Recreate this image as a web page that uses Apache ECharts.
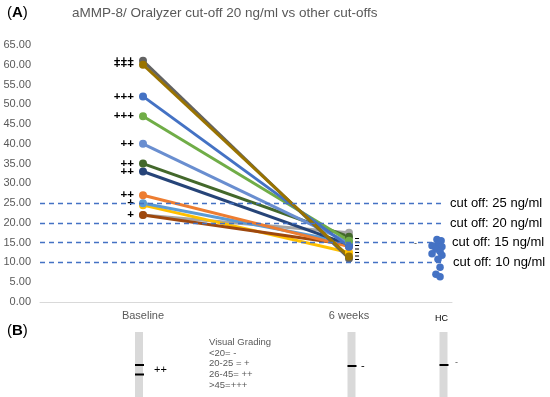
<!DOCTYPE html>
<html>
<head>
<meta charset="utf-8">
<script src="https://cdn.jsdelivr.net/npm/echarts@6/dist/echarts.min.js"></script>
<style>html,body{margin:0;padding:0;background:#fff;}#c{width:550px;height:397px;}</style>
</head>
<body>
<div id="c"></div>
<script>
// ---- data ----
const categories = ['Baseline', '6 weeks'];
const seriesColors = ['#A5A5A5', '#FFC000', '#9E480E', '#5B9BD5', '#ED7D31', '#264478', '#43682B', '#698ED0', '#70AD47', '#4472C4', '#636363', '#997300'];
const baselineValues = [22, 24.5, 22, 25, 27, 33, 35, 40, 47, 52, 61, 60];
const week6Values = [17.5, 12.5, 14.5, 15, 14, 14.5, 16.5, 15, 15.5, 14, 11, 11.5];
const grades = ['', '', '+', '+', '++', '++', '++', '++', '+++', '+++', '+++', '+++'];
const hcValues = [15.8, 15.5, 14.6, 14.2, 14.0, 13.4, 12.8, 12.2, 11.8, 10.8, 8.8, 7.0, 6.4];
const hcPositions = [1.427, 1.447, 1.432, 1.403, 1.451, 1.422, 1.442, 1.403, 1.451, 1.432, 1.442, 1.422, 1.442];
const cutoffs = [25, 20, 15, 10];
const cutoffLabels = ['cut off: 25 ng/ml', 'cut off: 20 ng/ml', 'cut off: 15 ng/ml', 'cut off: 10 ng/ml'];
const week6Range = [16.2, 10.2];
const gradingLines = ['Visual Grading', '<20= -', '20-25 = +', '26-45= ++', '>45=+++'];

const FONT = "'Liberation Sans', Arial, sans-serif";
const chart = echarts.init(document.getElementById('c'), null, {renderer: 'canvas'});

const labelPads = [[0,0,3,0],[0,0,6,0],[0,0,2,2],[0,0,6,3]];

const series = [];
baselineValues.forEach((b, i) => {
  const s = {
    type: 'line',
    xAxisIndex: 1,
    data: [
      {value: [0, b], label: {show: grades[i] !== '', formatter: grades[i]}},
      {value: [1, week6Values[i]]}
    ],
    symbol: 'circle',
    symbolSize: 8,
    showSymbol: true,
    lineStyle: {color: seriesColors[i], width: 3},
    itemStyle: {color: seriesColors[i]},
    label: {show: false, position: 'left', distance: 5, color: '#000', fontSize: 11.5, fontWeight: 'bold', fontFamily: FONT},
    emphasis: {disabled: true},
    animation: false
  };
  if (i === 0) {
    s.markLine = {
      silent: true,
      symbol: 'none',
      animation: false,
      lineStyle: {color: '#4472C4', width: 1.3, type: [5, 4]},
      data: cutoffs.map((c, k) => [
        {coord: [-0.5, c], label: {show: true, position: 'end', distance: 7, formatter: cutoffLabels[k], color: '#000', fontSize: 13, fontFamily: FONT, padding: labelPads[k]}},
        {coord: [1.456, c]}
      ])
    };
  }
  series.push(s);
});

series.push({
  type: 'line',
  xAxisIndex: 1,
  data: week6Range.map(v => [1.039, v]),
  symbol: 'none',
  lineStyle: {color: '#000', width: 4, type: [1, 2.5]},
  animation: false,
  z: 3
});

series.push({
  type: 'scatter',
  xAxisIndex: 1,
  data: hcValues.map((v, i) => [hcPositions[i], v]),
  symbolSize: 7.5,
  itemStyle: {color: '#4472C4', opacity: 1},
  animation: false,
  z: 3
});

const g = [];
function txt(x, y, text, size, color, extra) {
  g.push(Object.assign({type: 'text', x: x, y: y, silent: true,
    style: Object.assign({text: text, font: size + 'px ' + FONT, fill: color, verticalAlign: 'middle', align: 'left'}, extra || {})}));
}
// Panel labels
g.push({type: 'text', x: 7, y: 13, silent: true, style: {text: '{a|(}{b|A}{a|)}', verticalAlign: 'middle', rich: {a: {fontSize: 15, fontFamily: FONT, fill: '#000'}, b: {fontSize: 15, fontWeight: 'bold', fontFamily: FONT, fill: '#000'}}}});
g.push({type: 'text', x: 7, y: 331, silent: true, style: {text: '{a|(}{b|B}{a|)}', verticalAlign: 'middle', rich: {a: {fontSize: 15, fontFamily: FONT, fill: '#000'}, b: {fontSize: 15, fontWeight: 'bold', fontFamily: FONT, fill: '#000'}}}});
txt(72, 13, 'aMMP-8/ Oralyzer cut-off 20 ng/ml vs other cut-offs', 13.5, '#595959');
txt(414, 244, '-', 9, '#333');
txt(435, 319, 'HC', 9, '#000');
// strips
function strip(x, bands) {
  g.push({type: 'rect', silent: true, shape: {x: x, y: 332, width: 8, height: 65}, style: {fill: '#d9d9d9'}});
  bands.forEach(y => g.push({type: 'rect', silent: true, shape: {x: x, y: y - 1, width: 9, height: 2}, style: {fill: '#000'}}));
}
strip(135, [365, 374.5]);
strip(347.5, [366]);
strip(439.5, [365]);
txt(154, 370, '++', 11, '#000');
txt(361, 366, '-', 11, '#000');
txt(455, 363, '-', 9, '#555');
gradingLines.forEach((t, i) => txt(209, 342.5 + i * 10.6, t, 9.5, '#595959'));

chart.setOption({
  animation: false,
  textStyle: {fontFamily: FONT},
  grid: {left: 40, top: 45, width: 412, height: 257, containLabel: false},
  xAxis: [
    {type: 'category', data: categories, boundaryGap: true,
     axisLine: {lineStyle: {color: '#d9d9d9', width: 1}}, axisTick: {show: false},
     axisLabel: {color: '#595959', fontSize: 11, margin: 8, fontFamily: FONT}, splitLine: {show: false}},
    {type: 'value', min: -0.5, max: 1.5, show: false}
  ],
  yAxis: {type: 'value', min: 0, max: 65, interval: 5,
    axisLine: {show: false}, axisTick: {show: false}, splitLine: {show: false},
    axisLabel: {color: '#595959', fontSize: 11, margin: 9, fontFamily: FONT, formatter: v => v.toFixed(2)}},
  series: series,
  graphic: g
});
</script>
</body>
</html>
